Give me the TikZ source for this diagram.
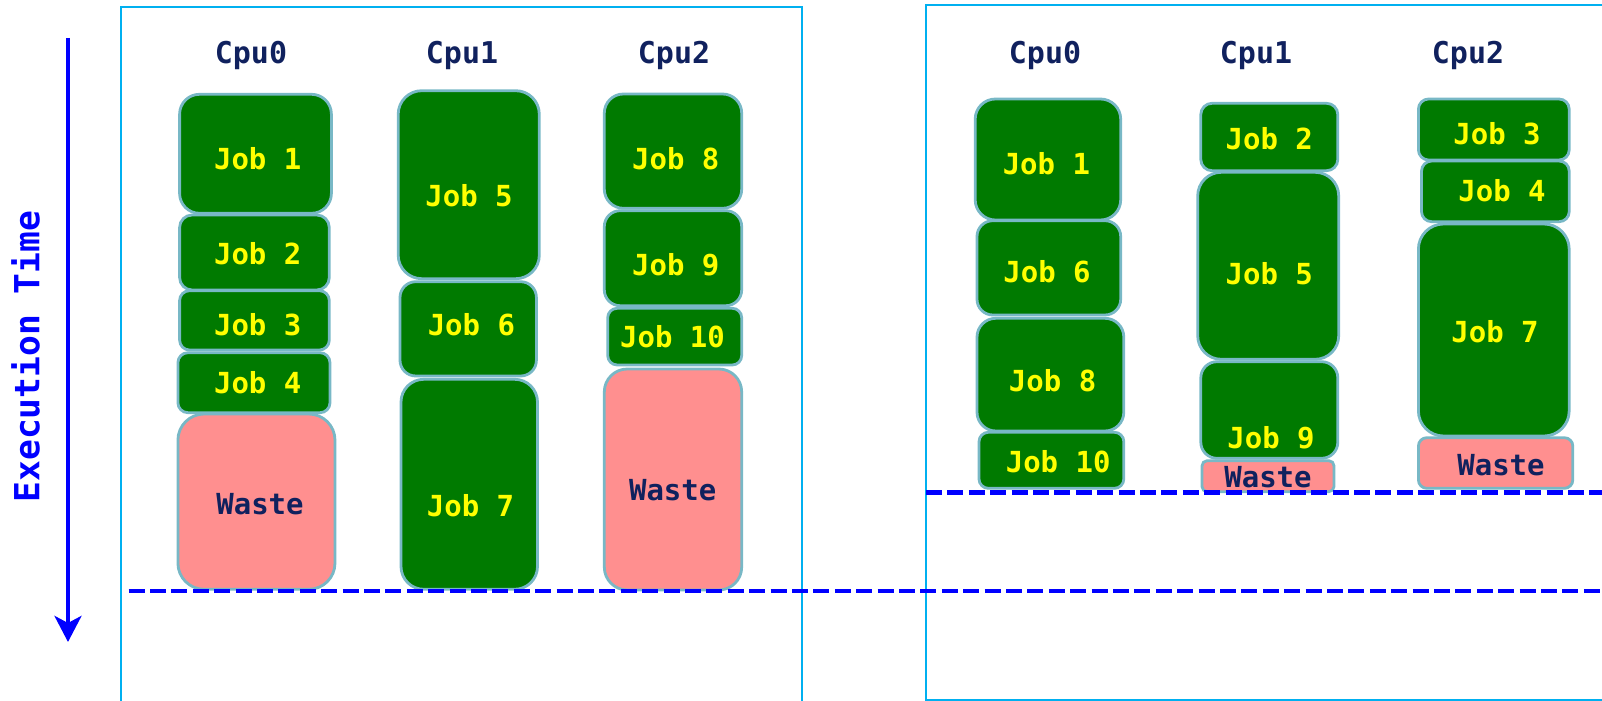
\documentclass[tikz,border=0pt]{standalone}
\usepackage{fontspec}
\newfontfamily\dvmono{DejaVu Sans Mono}
\usetikzlibrary{arrows.meta,fit}
\definecolor{jobgreen}{HTML}{007A00}
\definecolor{wastepink}{HTML}{FF8F8F}
\definecolor{boxedge}{HTML}{78B8C6}
\definecolor{navy}{HTML}{10215E}
\definecolor{framecol}{HTML}{00B0F0}
\definecolor{jobyellow}{HTML}{FFFF00}
\tikzset{
  job/.style={draw=boxedge, line width=1.4pt, fill=jobgreen},
  waste/.style={draw=boxedge, line width=1.4pt, fill=wastepink},
  jobtxt/.style={text=jobyellow, anchor=base, inner sep=0pt, font=\dvmono\bfseries\fontsize{14.5}{17}\selectfont},
  wastetxt/.style={text=navy, anchor=base, inner sep=0pt, font=\dvmono\bfseries\fontsize{14.5}{17}\selectfont},
  cputxt/.style={text=navy, anchor=base, inner sep=0pt, font=\dvmono\bfseries\fontsize{15}{18}\selectfont},
  framebox/.style={draw=framecol, line width=1pt},
  timeline/.style={draw=blue, line width=2.4pt, dash pattern=on 8pt off 2.7pt},
}
\newcommand\jobrect[9]{%
  \pgfmathsetmacro\rr{0.1667*min(abs(#4-#2),abs(#5-#3))*0.5}%
  \pgfmathsetmacro\lby{#8+10.8}%
  \coordinate (#1-a) at (#2,#3);
  \coordinate (#1-b) at (#4,#5);
  \node[#6, fit=(#1-a)(#1-b), inner sep=0pt, rounded corners=\rr pt] (#1) {};
  \node[#6txt] (#1-t) at (#7,\lby) {#9};
}
\begin{document}
\begin{tikzpicture}[x=0.5pt,y=-0.5pt]
\useasboundingbox (0,0) rectangle (1602,701);
\clip (0,0) rectangle (1602,701);
% frames
\coordinate (lf1) at (120.7,720);
\coordinate (lf2) at (120.7,7.5);
\coordinate (lf3) at (801.7,7.5);
\coordinate (lf4) at (801.7,720);
\draw[framebox] (lf1) -- (lf2) -- (lf3) -- (lf4);
\coordinate (rf1) at (1640,5);
\coordinate (rf2) at (925.7,5);
\coordinate (rf3) at (925.7,699.5);
\coordinate (rf4) at (1640,699.5);
\draw[framebox] (rf1) -- (rf2) -- (rf3) -- (rf4);
% time axis
\coordinate (arrtop) at (68,38);
\coordinate (arrbot) at (68,642);
\draw[blue, line width=2.3pt, -{Stealth[length=13pt,width=13.4pt,inset=3.5pt]}] (arrtop) -- (arrbot);
\node[rotate=90, text=blue, inner sep=0pt, font=\dvmono\bfseries\fontsize{17.3}{20}\selectfont] (ylab) at (25.5,356.5) {Execution Time};
% cpu labels
\node[cputxt] (lc0) at (251,63.5) {Cpu0};
\node[cputxt] (lc1) at (462,63.5) {Cpu1};
\node[cputxt] (lc2) at (674,63.5) {Cpu2};
\node[cputxt] (rc0) at (1045,63.5) {Cpu0};
\node[cputxt] (rc1) at (1256,63.5) {Cpu1};
\node[cputxt] (rc2) at (1468,63.5) {Cpu2};
% left panel
\jobrect{LaJa}{179.6}{94.3}{331.4}{213.3}{job}{257.7}{158.3}{Job 1}
\jobrect{LaJb}{179.6}{215}{329.3}{290}{job}{257.7}{253.3}{Job 2}
\jobrect{LaJc}{179.6}{290.7}{329.3}{350}{job}{257.7}{325}{Job 3}
\jobrect{LaJd}{177.9}{352.7}{330}{412.7}{job}{257.7}{382.3}{Job 4}
\jobrect{LaW}{177.9}{414}{335}{589.3}{waste}{260}{503.3}{Waste}
\jobrect{LbJe}{398.2}{90.7}{539.3}{278.7}{job}{469}{196}{Job 5}
\jobrect{LbJf}{400}{281.7}{536.4}{376}{job}{471.4}{325}{Job 6}
\jobrect{LbJg}{401}{379.3}{537.5}{589.3}{job}{470.5}{506}{Job 7}
\jobrect{LcJh}{604.3}{94}{741.7}{208.3}{job}{675.8}{158.3}{Job 8}
\jobrect{LcJi}{604.3}{210.7}{741.7}{305.7}{job}{675.8}{265}{Job 9}
\jobrect{LcJj}{607.7}{308.3}{741.7}{365}{job}{672.5}{337}{Job 10}
\jobrect{LcW}{604.3}{369}{741.7}{590}{waste}{672.7}{489.3}{Waste}
% right panel
\jobrect{RaJa}{975.2}{99}{1120.7}{220}{job}{1046.4}{163.3}{Job 1}
\jobrect{RaJf}{977}{220.7}{1120.7}{315}{job}{1047}{271.7}{Job 6}
\jobrect{RaJh}{977}{318.3}{1123.8}{431}{job}{1052.6}{381}{Job 8}
\jobrect{RaJj}{979}{432.3}{1123.8}{488.3}{job}{1058.2}{461.7}{Job 10}
\jobrect{RbJb}{1200.8}{103.3}{1337.8}{170.7}{job}{1269.3}{138.3}{Job 2}
\jobrect{RbJe}{1197.7}{172.3}{1338.7}{359.3}{job}{1269.3}{273.3}{Job 5}
\jobrect{RbJi}{1200.8}{361.7}{1337.8}{458.3}{job}{1271}{437.3}{Job 9}
\jobrect{RbW}{1202}{460.7}{1334}{491.7}{waste}{1268}{476.7}{Waste}
\jobrect{RcJc}{1418.4}{99}{1569.2}{160}{job}{1497}{133.3}{Job 3}
\jobrect{RcJd}{1421.5}{161}{1569.2}{221.7}{job}{1502}{190.7}{Job 4}
\jobrect{RcJg}{1418.4}{224}{1569.2}{436}{job}{1495}{331.7}{Job 7}
\jobrect{RcW}{1418.4}{437.7}{1572.8}{488.3}{waste}{1501}{465}{Waste}
% finish lines
\coordinate (dla) at (128.6,591);
\coordinate (dlb) at (1610,591);
\draw[timeline] (dla) -- (dlb);
\coordinate (dra) at (926,492.7);
\coordinate (drb) at (1610,492.7);
\draw[timeline] (dra) -- (drb);
\end{tikzpicture}
\end{document}
